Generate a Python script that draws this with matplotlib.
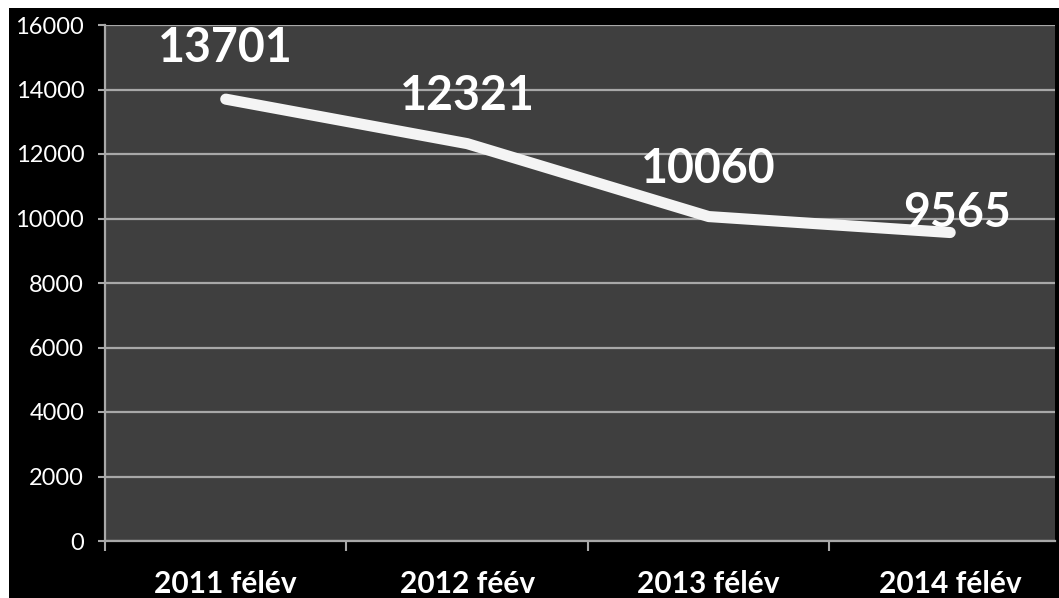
import matplotlib.pyplot as plt
from matplotlib.patches import Rectangle

# adatok
categories = ['2011 félév', '2012 féév', '2013 félév', '2014 félév']
values = [13701, 12321, 10060, 9565]
yticks = [0, 2000, 4000, 6000, 8000, 10000, 12000, 14000, 16000]

plt.rcParams['font.family'] = ['Lato', 'DejaVu Sans']

fig = plt.figure(figsize=(10.59, 5.98), dpi=100)
fig.patch.set_facecolor('white')
# fekete háttér, fent és bal oldalt keskeny fehér csík
fig.patches.append(Rectangle((9 / 1059, 0), 1 - 9 / 1059, 1 - 8 / 598,
                             transform=fig.transFigure, facecolor='black',
                             edgecolor='none', zorder=-10))

ax = fig.add_axes([105 / 1059, 57 / 598, 950 / 1059, 516 / 598])
ax.set_zorder(1)
ax.set_facecolor('#3f3f3f')

x = list(range(len(categories)))
ax.plot(x, values, color='#f4f4f4', linewidth=8, solid_capstyle='round',
        solid_joinstyle='round', zorder=3)

# adatcímkék
offsets = [(0, 37), (0, 34), (0, 34), (5, 14)]
for xi, v, off in zip(x, values, offsets):
    ax.annotate(str(v), (xi, v), xytext=off, textcoords='offset points',
                ha='center', va='center', fontsize=33.5, fontweight='bold',
                color='white', zorder=4)

ax.set_xlim(-0.5, 3.434)
ax.set_ylim(0, 16000)
ax.set_yticks(yticks)
ax.set_yticklabels([str(t) for t in yticks])
ax.grid(axis='y', color='#a8a8a8', linewidth=1.6, zorder=1)
ax.set_axisbelow(True)

ax.set_xticks(x)
ax.set_xticklabels(categories, fontsize=21.5, fontweight='bold', color='white')
ax.set_xticks([-0.5, 0.5, 1.5, 2.5], minor=True)
ax.tick_params(axis='x', which='major', length=0, pad=21)
ax.tick_params(axis='x', which='minor', length=7, width=1.5, color='#a8a8a8')
ax.tick_params(axis='y', length=5, width=1.5, color='#a8a8a8', pad=10,
               labelsize=17, labelcolor='white')

for side in ['top', 'right']:
    ax.spines[side].set_visible(False)
for side in ['left', 'bottom']:
    ax.spines[side].set_color('#a8a8a8')
    ax.spines[side].set_linewidth(1.6)

fig.savefig('out.png', dpi=100)
